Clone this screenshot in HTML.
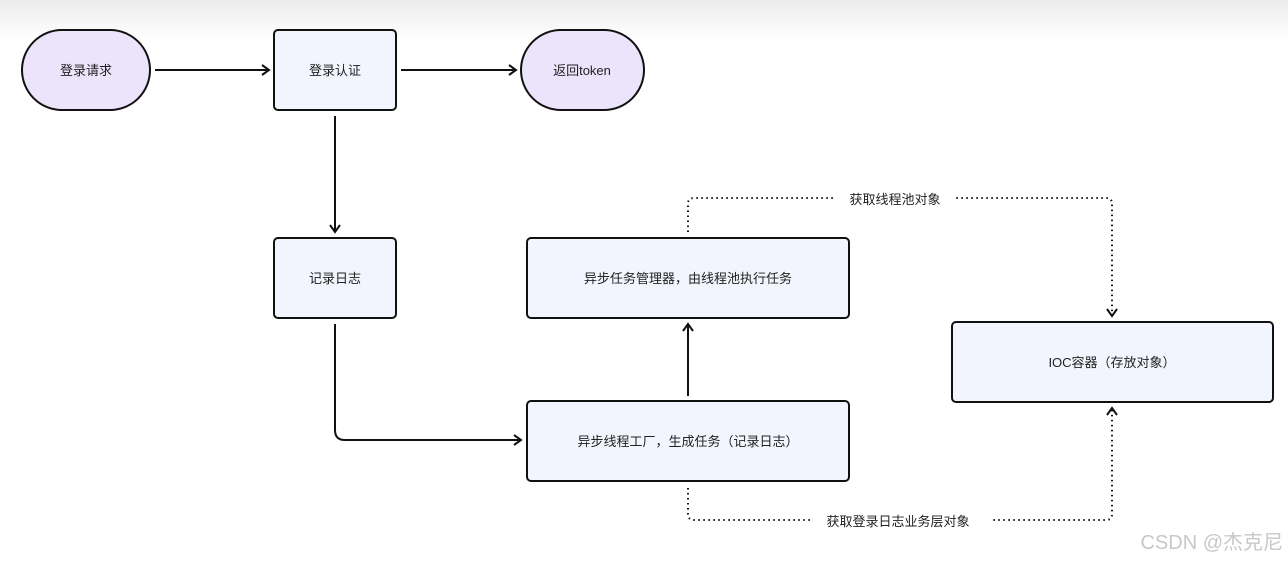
<!DOCTYPE html>
<html><head><meta charset="utf-8"><style>
body{margin:0;width:1288px;height:562px;overflow:hidden;background:#fff;font-family:"Liberation Sans","Noto Sans CJK SC",sans-serif;}
</style></head><body>
<svg width="1288" height="562" xmlns="http://www.w3.org/2000/svg" style="position:absolute;left:0;top:0">
<defs>
<linearGradient id="g" x1="0" y1="0" x2="0" y2="1"><stop offset="0" stop-color="#ececec"/><stop offset="1" stop-color="#ffffff"/></linearGradient>
<marker id="a" markerWidth="12" markerHeight="12" refX="9" refY="6" orient="auto" markerUnits="userSpaceOnUse"><path d="M2,1 L9,6 L2,11" fill="none" stroke="#111" stroke-width="2"/></marker>
</defs>
<rect x="0" y="0" width="1288" height="40" fill="url(#g)"/>
<g stroke="#111" stroke-width="2" fill="#f2f5fd">
<rect x="22" y="30" width="128" height="80" rx="40" fill="#ebe4fb"/>
<rect x="274" y="30" width="122" height="80" rx="4"/>
<rect x="521" y="30" width="123" height="80" rx="40" fill="#ebe4fb"/>
<rect x="274" y="238" width="122" height="80" rx="4"/>
<rect x="527" y="238" width="322" height="80" rx="4"/>
<rect x="527" y="401" width="322" height="80" rx="4"/>
<rect x="952" y="322" width="321" height="80" rx="4"/>
</g>
<g stroke="#111" stroke-width="2" fill="none" marker-end="url(#a)">
<line x1="155" y1="70" x2="269" y2="70"/>
<line x1="401" y1="70" x2="516" y2="70"/>
<line x1="335" y1="116" x2="335" y2="232"/>
<path d="M335,324 V430 Q335,440 345,440 H521"/>
<line x1="688" y1="396" x2="688" y2="324"/>
</g>
<g stroke="#111" stroke-width="2" fill="none" stroke-dasharray="1.5 3.5" marker-end="url(#a)">
<path d="M688,232 V204 Q688,198 694,198 H1106 Q1112,198 1112,204 V316"/>
<path d="M688,488 V514 Q688,520 694,520 H1106 Q1112,520 1112,514 V408"/>
</g>
<rect x="836" y="188" width="118" height="22" fill="#fff"/>
<rect x="810" y="510" width="180" height="22" fill="#fff"/>
<g font-size="13" fill="#222" text-anchor="middle" font-family="Liberation Sans, Noto Sans CJK SC, sans-serif">
<text x="86" y="75">登录请求</text>
<text x="335" y="75">登录认证</text>
<text x="582" y="75">返回token</text>
<text x="335" y="283">记录日志</text>
<text x="688" y="283">异步任务管理器，由线程池执行任务</text>
<text x="688" y="446">异步线程工厂，生成任务（记录日志）</text>
<text x="1112" y="367">IOC容器（存放对象）</text>
<text x="895" y="204">获取线程池对象</text>
<text x="898" y="526">获取登录日志业务层对象</text>
</g>
<text x="1283" y="549" font-size="20" fill="#c8c8c8" text-anchor="end" font-family="Liberation Sans, Noto Sans CJK SC, sans-serif">CSDN @杰克尼</text>
</svg>
</body></html>
